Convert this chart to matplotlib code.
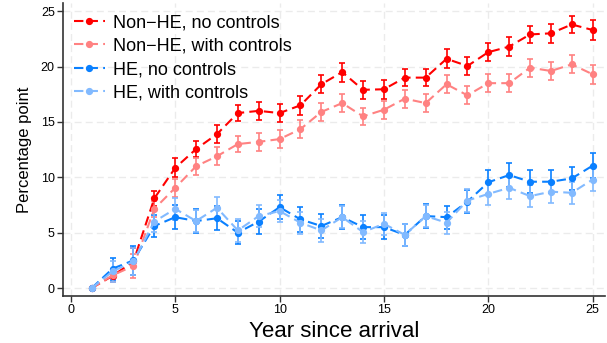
import matplotlib
matplotlib.use("Agg")
import matplotlib.pyplot as plt
from matplotlib.lines import Line2D

plt.rcParams['font.family'] = ['Liberation Sans', 'DejaVu Sans']

years = list(range(1, 26))

nonhe_noctrl = [0.0, 1.1, 2.4, 8.1, 10.85, 12.55, 13.9, 15.8, 16.0, 15.8, 16.5,
                18.4, 19.5, 17.9, 17.95, 19.0, 19.0, 20.7, 20.05, 21.3, 21.8,
                22.9, 23.0, 23.8, 23.3]
nonhe_noctrl_ci = [0.0, 0.6, 1.2, 0.7, 0.85, 0.75, 0.8, 0.75, 0.8, 0.8, 0.85,
                   0.8, 0.85, 0.8, 0.85, 0.8, 0.8, 0.85, 0.85, 0.8, 0.85,
                   0.8, 0.85, 0.8, 0.9]

nonhe_ctrl = [0.0, 1.15, 2.0, 7.15, 9.05, 11.0, 11.9, 13.0, 13.2, 13.45, 14.35,
              15.9, 16.7, 15.5, 16.1, 17.1, 16.7, 18.4, 17.4, 18.5, 18.5,
              19.9, 19.6, 20.2, 19.3]
nonhe_ctrl_ci = [0.0, 0.6, 1.1, 0.75, 0.8, 0.75, 0.8, 0.75, 0.8, 0.8, 0.8,
                 0.8, 0.8, 0.75, 0.8, 0.8, 0.8, 0.8, 0.8, 0.8, 0.8,
                 0.8, 0.8, 0.8, 0.85]

he_noctrl = [0.0, 1.75, 2.5, 5.6, 6.4, 6.05, 6.3, 5.0, 6.0, 7.3, 6.2,
             5.6, 6.4, 5.5, 5.5, 4.8, 6.5, 6.4, 7.8, 9.55, 10.2,
             9.6, 9.6, 9.9, 11.05]
he_noctrl_ci = [0.0, 1.0, 1.3, 1.0, 1.1, 1.05, 1.1, 1.05, 1.1, 1.1, 1.1,
                1.05, 1.1, 1.05, 1.05, 1.0, 1.05, 1.05, 1.05, 1.1, 1.05,
                1.05, 1.05, 1.05, 1.1]

he_ctrl = [0.0, 1.5, 2.4, 6.0, 7.15, 6.05, 7.25, 5.2, 6.5, 6.95, 5.9,
           5.2, 6.4, 5.05, 5.8, 4.8, 6.5, 5.9, 7.9, 8.5, 9.05,
           8.3, 8.7, 8.6, 9.8]
he_ctrl_ci = [0.0, 0.95, 1.2, 0.95, 1.0, 1.0, 1.0, 1.0, 1.0, 1.0, 1.0,
              1.0, 1.0, 1.0, 1.0, 1.0, 1.0, 1.0, 1.0, 1.0, 1.0,
              1.0, 1.0, 1.0, 1.0]

series = [
    ("Non\u2212HE, no controls", nonhe_noctrl, nonhe_noctrl_ci, "#FF0000"),
    ("Non\u2212HE, with controls", nonhe_ctrl, nonhe_ctrl_ci, "#FF8282"),
    ("HE, no controls", he_noctrl, he_noctrl_ci, "#0A80FF"),
    ("HE, with controls", he_ctrl, he_ctrl_ci, "#82BAFF"),
]

dash = (0, (4.5, 2.5))

fig = plt.figure(figsize=(6.07, 3.43), dpi=100)
ax = fig.add_axes([0.104, 0.137, 0.893, 0.853])

for label, vals, ci, color in series:
    ax.errorbar(years, vals, yerr=ci, color=color, ecolor=color,
                linestyle=dash, linewidth=1.5, marker='o',
                markersize=4.2, elinewidth=1.2, capsize=2.5, capthick=1.2,
                label=label, zorder=3)

ax.set_xlim(-0.37, 25.6)
ax.set_ylim(-0.72, 25.7)
ax.set_xticks([0, 5, 10, 15, 20, 25])
ax.set_yticks([0, 5, 10, 15, 20, 25])
ax.tick_params(labelsize=9, length=4, width=1, color='#333333', pad=2)
ax.grid(True, color='#EBEBEB', linestyle=(0, (5, 3)), linewidth=1.0, zorder=0)
for s in ['top', 'right']:
    ax.spines[s].set_visible(False)
for s in ['left', 'bottom']:
    ax.spines[s].set_color('#333333')
    ax.spines[s].set_linewidth(1.2)

ax.set_xlabel("Year since arrival", fontsize=16, labelpad=3)
ax.set_ylabel("Percentage point", fontsize=12, labelpad=6)

labels = [s[0] for s in series]
proxy = [Line2D([0], [0], color=c, linestyle=dash, linewidth=1.5,
                marker='o', markersize=4.2) for _, _, _, c in series]
ax.legend(proxy, labels, loc='upper left', frameon=False, fontsize=13,
          handlelength=1.7, handletextpad=0.45, labelspacing=0.36,
          borderaxespad=0.2, bbox_to_anchor=(0.0, 1.0))

fig.savefig("out.png", dpi=100)
